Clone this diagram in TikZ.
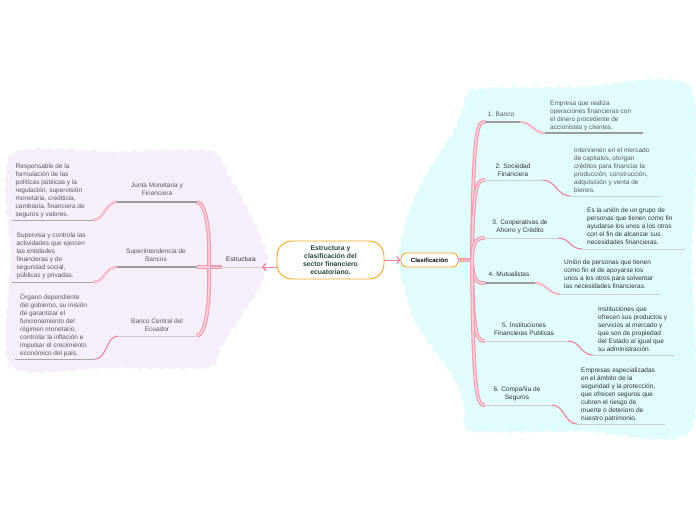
\documentclass[tikz,border=0pt]{standalone}
\usepackage{fontspec}
\setmainfont{Liberation Sans}
\usetikzlibrary{decorations.pathmorphing,arrows.meta,calc}
\definecolor{lav}{HTML}{F6EEFB}
\definecolor{cya}{HTML}{E1FCFC}
\definecolor{pk}{HTML}{F29AAD}
\definecolor{pkl}{HTML}{FAD3DC}
\definecolor{pkd}{HTML}{F08199}
\definecolor{gr}{HTML}{9B9B9B}
\definecolor{grl}{HTML}{CDCDCD}
\definecolor{grm}{HTML}{A8A8A8}
\definecolor{txt}{HTML}{5A5A5A}
\definecolor{txtd}{HTML}{333333}
\definecolor{org}{HTML}{F8A51E}
\definecolor{dgreen}{HTML}{24473A}
\newcommand{\myfs}{\fontsize{6.5}{8}\selectfont}
\begin{document}
\begin{tikzpicture}[x=1pt,y=-1pt,
  detail/.style={anchor=north west,align=left,inner sep=0pt,font=\myfs,text=txt},
  btext/.style={align=center,inner sep=0pt,font=\myfs,text=txt},
  strand/.style={draw=pk,line width=0.6pt,double=pkl,double distance=0.9pt},
  trunk/.style={draw=pk,line width=1.1pt,double=pkl,double distance=1.6pt},
  solidc/.style={draw=pkd,line width=1.1pt},
  ulthick/.style={draw=gr,line width=1.8pt},
  ulthin/.style={draw=grl,line width=0.8pt},
  uldet/.style={draw=grm,line width=0.8pt},
  bgwave/.style={decorate,decoration={snake,amplitude=1.2pt,segment length=11pt}},
]
\useasboundingbox (0,0) rectangle (696,520);
\fill[white] (0,0) rectangle (696,520);
% backgrounds
\fill[lav,bgwave] plot[smooth cycle,tension=0.4] coordinates {(8,155) (110,152) (208,151) (226,176) (240,200) (255,230) (265,260) (256,290) (236,320) (217,350) (206,368) (110,368) (8,367) (8,260)};
\fill[cya,bgwave] plot[smooth cycle,tension=0.4] coordinates {(472,89) (580,87) (688,88) (689,260) (688,431) (580,431) (468,431) (462,410) (452,380) (432,352) (412,322) (402,292) (395,260) (402,225) (415,190) (432,160) (450,132) (460,108)};

% central nodes
\node[draw=org,line width=0.9pt,fill=white,rounded corners=15pt,minimum width=107pt,minimum height=38pt,inner sep=0pt,align=center,font=\bfseries\fontsize{6.8}{8}\selectfont,text=dgreen] (C) at (330.5,260) {Estructura y\\clasificación del\\sector financiero\\ecuatoriano.};
\node[draw=org,line width=0.9pt,fill=white,rounded corners=5pt,minimum width=57pt,minimum height=14pt,inner sep=0pt,font=\bfseries\fontsize{6}{7}\selectfont,text=black] (K) at (429.5,260) {Clasificación};

% left side
\node[btext,text=txtd] (E) at (241,259.5) {Estructura};
\coordinate (Eend) at (262,267);
\coordinate (Ebar) at (222,267);
\coordinate (Ljn) at (209,267);
\draw[pkd,line width=1pt,-{Straight Barb[length=3pt,width=7pt,line width=1.2pt]}] (C.west |- Eend) -- (Eend);
\draw[ulthin] (Eend) -- (Ebar);
\draw[draw=pk,line width=3.5pt] (Ebar) -- (Ljn);
\draw[draw=pkl,line width=1pt] (Ebar) -- (Ljn);

\coordinate (J1) at (197,202);
\coordinate (J2) at (197,267);
\coordinate (J3) at (197,336);
\draw[trunk] (Ljn) .. controls (210,228) and (206,204) .. (J1);
\draw[trunk] (Ljn) .. controls (210,305) and (206,334) .. (J3);
\draw[trunk] (Ljn) -- (J2);

\coordinate (J1e) at (117,202);
\coordinate (D1) at (93,220);
\coordinate (D1e) at (12,220);
\coordinate (J2e) at (117,267);
\coordinate (D2) at (93,282);
\coordinate (D2e) at (12,282);
\coordinate (J3e) at (118,336);
\coordinate (D3) at (95,359);
\coordinate (D3e) at (15,359);
\draw[ulthick] (J1) -- (J1e);
\draw[strand] (J1e) .. controls ($(J1e)+(-12,0)$) and ($(D1)+(12,0)$) .. (D1);
\draw[uldet] (D1) -- (D1e);
\draw[ulthick] (J2) -- (J2e);
\draw[strand] (J2e) .. controls ($(J2e)+(-12,0)$) and ($(D2)+(12,0)$) .. (D2);
\draw[uldet] (D2) -- (D2e);
\draw[ulthin] (J3) -- (J3e);
\draw[solidc] (J3e) .. controls ($(J3e)+(-12,0)$) and ($(D3)+(12,0)$) .. (D3);
\draw[uldet] (D3) -- (D3e);

\node[btext] (A1) at (157,189.5) {Junta Monetaria y\\Financiera};
\node[btext] (A2) at (156,255.5) {Superintendencia de\\Bancos};
\node[btext] (A3) at (157,325) {Banco Central del\\Ecuador};
\node[detail] (T1) at (15.5,163.5) {Responsable de la\\formulación de las\\políticas públicas y la\\regulación, supervisión\\monetaria, crediticia,\\cambiaria, financiera de\\seguros y valores.};
\node[detail] (T2) at (16.5,233) {Supervisa y controla las\\actividades que ejercen\\las entidades\\financieras y de\\seguridad social,\\públicas y privadas.};
\node[detail] (T3) at (20,294) {Órgano dependiente\\del gobierno, su misión\\de garantizar el\\funcionamiento del\\régimen monetario,\\controlar la inflación e\\impulsar el crecimiento\\económico del país.};

% right side
\draw[pkd,line width=1pt,-{Straight Barb[length=3pt,width=7pt,line width=1.2pt]}] (C.east |- K) -- (K.west);
\coordinate (Rroot) at (472,260);
\draw[draw=pk,line width=3.5pt] (K.east) -- (Rroot);
\draw[draw=pkl,line width=1pt] (K.east) -- (Rroot);

\coordinate (R1) at (485,122);  \coordinate (R1e) at (520,122);
\coordinate (S1) at (545,133);  \coordinate (S1e) at (643,133);
\coordinate (R2) at (485,180);  \coordinate (R2e) at (543,180);
\coordinate (S2) at (570,196);  \coordinate (S2e) at (660,196);
\coordinate (R3) at (485,238);  \coordinate (R3e) at (558,238);
\coordinate (S3) at (582,249);  \coordinate (S3e) at (685,249);
\coordinate (R4) at (485,283);  \coordinate (R4e) at (535,283);
\coordinate (S4) at (560,294);  \coordinate (S4e) at (660,294);
\coordinate (R5) at (485,341);  \coordinate (R5e) at (568,341);
\coordinate (S5) at (593,355);  \coordinate (S5e) at (675,355);
\coordinate (R6) at (485,405);  \coordinate (R6e) at (552,405);
\coordinate (S6) at (577,424);  \coordinate (S6e) at (665,424);

\foreach \i in {1,...,6}{
  \draw[trunk] (Rroot) .. controls ($(Rroot|-R\i)+(1,0)$) and ($(Rroot|-R\i)+(6,0)$) .. (R\i);
}
\draw[ulthick] (R1) -- (R1e);
\draw[strand] (R1e) .. controls ($(R1e)+(12,0)$) and ($(S1)+(-12,0)$) .. (S1);
\draw[ulthick] (S1) -- (S1e);
\draw[ulthin] (R2) -- (R2e);
\draw[solidc] (R2e) .. controls ($(R2e)+(12,0)$) and ($(S2)+(-12,0)$) .. (S2);
\draw[ulthin] (S2) -- (S2e);
\draw[ulthin] (R3) -- (R3e);
\draw[solidc] (R3e) .. controls ($(R3e)+(12,0)$) and ($(S3)+(-12,0)$) .. (S3);
\draw[ulthin] (S3) -- (S3e);
\draw[ulthick] (R4) -- (R4e);
\draw[strand] (R4e) .. controls ($(R4e)+(12,0)$) and ($(S4)+(-12,0)$) .. (S4);
\draw[ulthin] (S4) -- (S4e);
\draw[ulthin] (R5) -- (R5e);
\draw[solidc] (R5e) .. controls ($(R5e)+(12,0)$) and ($(S5)+(-12,0)$) .. (S5);
\draw[ulthin] (S5) -- (S5e);
\draw[ulthin] (R6) -- (R6e);
\draw[solidc] (R6e) .. controls ($(R6e)+(12,0)$) and ($(S6)+(-12,0)$) .. (S6);
\draw[ulthin] (S6) -- (S6e);

\node[btext] (B1) at (501,114) {1. Banco};
\node[btext,text=txtd] (B2) at (513,170) {2. Sociedad\\Financiera};
\node[btext,text=txtd] (B3) at (520,227) {3. Cooperativas de\\Ahorro y Crédito};
\node[btext,text=txtd] (B4) at (509,274) {4. Mutualistas};
\node[btext,text=txtd] (B5) at (524,329.5) {5. Instituciones\\Financieras Publicas};
\node[btext,text=txtd] (B6) at (517,394) {6. Compañía de\\Seguros};

\node[detail] (T4) at (550,100.5) {Empresa que realiza\\operaciones financieras con\\el dinero procedente de\\accionistas y clientes.};
\node[detail] (T5) at (574,147.5) {Intervienen en el mercado\\de capitales, otorgan\\créditos para financiar la\\producción, construcción,\\adquisición y venta de\\bienes.};
\node[detail,text=txtd] (T6) at (587,208) {Es la unión de un grupo de\\personas que tienen como fin\\ayudarse los unos a los otros\\con el fin de alcanzar sus\\necesidades financieras.};
\node[detail,text=txtd] (T7) at (564,260) {Unión de personas que tienen\\como fin el de apoyarse los\\unos a los otros para solventar\\las necesidades financieras.};
\node[detail,text=txtd] (T8) at (598,307) {Instituciones que\\ofrecen sus productos y\\servicios al mercado y\\que son de propiedad\\del Estado al igual que\\su administración.};
\node[detail,text=txtd] (T9) at (581,368) {Empresas especializadas\\en el ámbito de la\\seguridad y la protección,\\que ofrecen seguros que\\cubren el riesgo de\\muerte o deterioro de\\nuestro patrimonio.};
\end{tikzpicture}
\end{document}
